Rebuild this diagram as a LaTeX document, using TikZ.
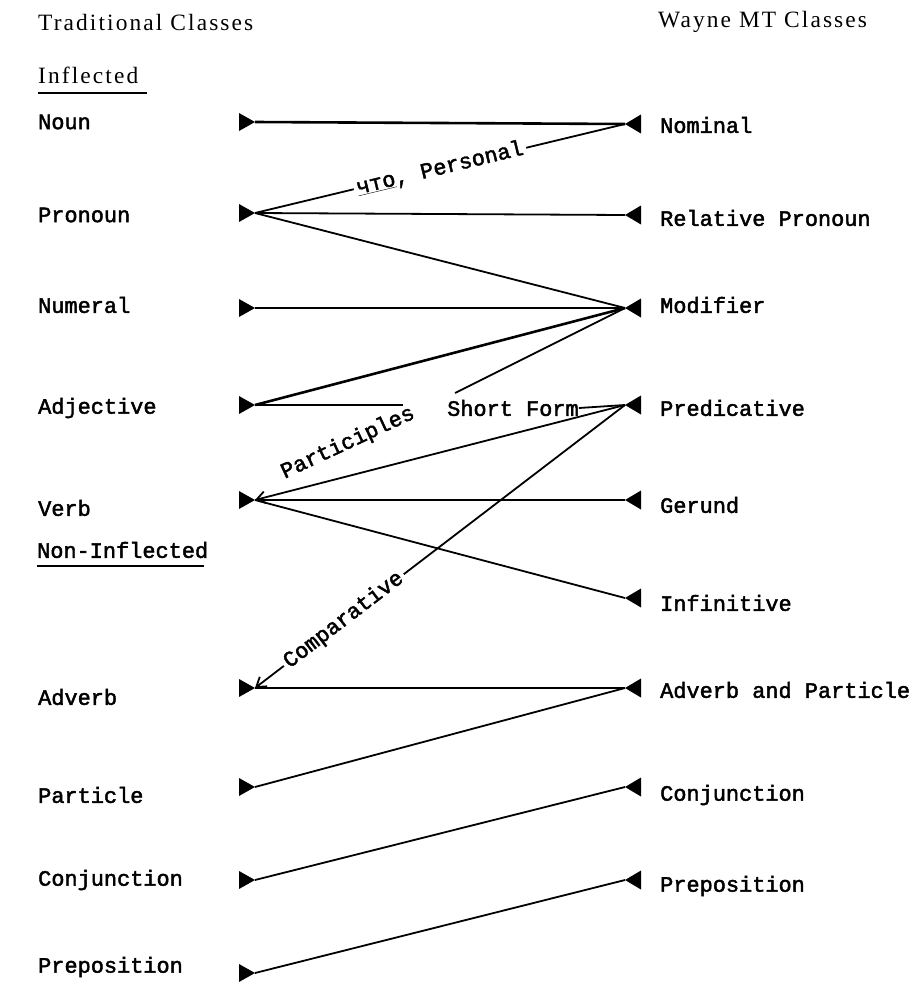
\documentclass[tikz,border=0pt]{standalone}
\usepackage{fontspec}
\usetikzlibrary{arrows.meta}
\newfontfamily\tw{Liberation Mono}[FakeBold=2]
\newfontfamily\hd{Liberation Serif}[LetterSpace=9]
\tikzset{
  lab/.style={anchor=west,inner sep=0pt,font=\tw\fontsize{22}{22}\selectfont},
  hdr/.style={anchor=west,inner sep=0pt,font=\hd\fontsize{23.5}{23.5}\selectfont},
  ln/.style={line width=1.8bp,black},
  lnt/.style={line width=2.6bp,black},
  barb/.style={-{Straight Barb[length=9bp,width=12bp,line width=1.8bp]}},
  slab/.style={font=\tw\fontsize{22}{22}\selectfont,inner sep=3pt,fill=white}
}
\newcommand\ltri[1]{\fill ([shift={(-16,-9)}]#1) -- (#1) -- ([shift={(-16,9)}]#1) -- cycle;}
\newcommand\rtri[1]{\fill ([shift={(16,-9.5)}]#1) -- (#1) -- ([shift={(16,9.5)}]#1) -- cycle;}
\begin{document}
\begin{tikzpicture}[x=1bp,y=-1bp]
\useasboundingbox[fill=white] (0,0) rectangle (914,994);
% headers
\node[hdr] (h1) at (38,22) {Traditional Classes};
\node[hdr] (h2) at (658,22) {Wayne MT Classes};
\node[hdr] (inf) at (38,75) {Inflected};
\draw[line width=1.8bp] (38,93) -- (147,93);
% left labels
\node[lab] (tn) at (38,122) {Noun};
\node[lab] (tp) at (38,215) {Pronoun};
\node[lab] (tnu) at (38,305) {Numeral};
\node[lab] (ta) at (38,408) {Adjective};
\node[lab] (tv) at (38,508) {Verb};
\node[lab] (ninf) at (37,550) {Non-Inflected};
\draw[line width=1.8bp] (37,566) -- (204,566);
\node[lab] (tad) at (38,697) {Adverb};
\node[lab] (tpa) at (38,795) {Particle};
\node[lab] (tc) at (38,880) {Conjunction};
\node[lab] (tpr) at (38,967) {Preposition};
% right labels
\node[lab] (wn) at (660,125) {Nominal};
\node[lab] (wr) at (660,218) {Relative Pronoun};
\node[lab] (wm) at (660,305) {Modifier};
\node[lab] (wp) at (660,408) {Predicative};
\node[lab] (wg) at (660,505) {Gerund};
\node[lab] (wi) at (660,603) {Infinitive};
\node[lab] (wa) at (660,690) {Adverb and Particle};
\node[lab] (wc) at (660,795) {Conjunction};
\node[lab] (wpr) at (660,886) {Preposition};
% anchor points
\coordinate (L1) at (255,122);
\coordinate (L2) at (255,213);
\coordinate (L3) at (255,308);
\coordinate (L4) at (255,405);
\coordinate (L5) at (255,500);
\coordinate (L6) at (255,688);
\coordinate (L7) at (255,787);
\coordinate (L8) at (255,880);
\coordinate (L9) at (255,973);
\coordinate (R1) at (625,124);
\coordinate (R2) at (625,215);
\coordinate (R3) at (625,308);
\coordinate (R4) at (625,405);
\coordinate (R5) at (625,500);
\coordinate (R6) at (625,598);
\coordinate (R7) at (625,688);
\coordinate (R8) at (625,787);
\coordinate (R9) at (625,880);
\coordinate (mstub) at (455,393);
\coordinate (aend) at (403,405);
% connectors
\draw[lnt] (L1) -- (R1);
\draw[ln] (L2) -- node[slab,sloped,pos=0.5] {\underline{что}, Personal} (R1);
\draw[ln] (L2) -- (R2);
\draw[ln] (L2) -- (R3);
\draw[lnt] (L3) -- (R3);
\draw[lnt] (L4) -- (R3);
\draw[lnt] (L4) -- (aend);
\draw[ln] (R3) -- (mstub);
\node[lab] (sf) at (447,408) {Short Form};
\draw[ln] (sf.east) -- (R4);
\draw[ln,barb] (R4) -- (L5);
\node[font=\tw\fontsize{22}{22}\selectfont,rotate=25,inner sep=0pt] (part) at (348,443) {Participles};
\draw[lnt] (L5) -- (R5);
\draw[ln] (L5) -- (R6);
\draw[ln,barb] (R4) -- node[slab,sloped,pos=0.76] {Comparative} (L6);
\draw[lnt] (L6) -- (R7);
\draw[ln] (L7) -- (R7);
\draw[ln] (L8) -- (R8);
\draw[ln] (L9) -- (R9);
% markers
\foreach \p in {L1,L2,L3,L4,L5,L6,L7,L8,L9} {\ltri{\p}}
\foreach \p in {R1,R2,R3,R4,R5,R6,R7,R8,R9} {\rtri{\p}}
\end{tikzpicture}
\end{document}
